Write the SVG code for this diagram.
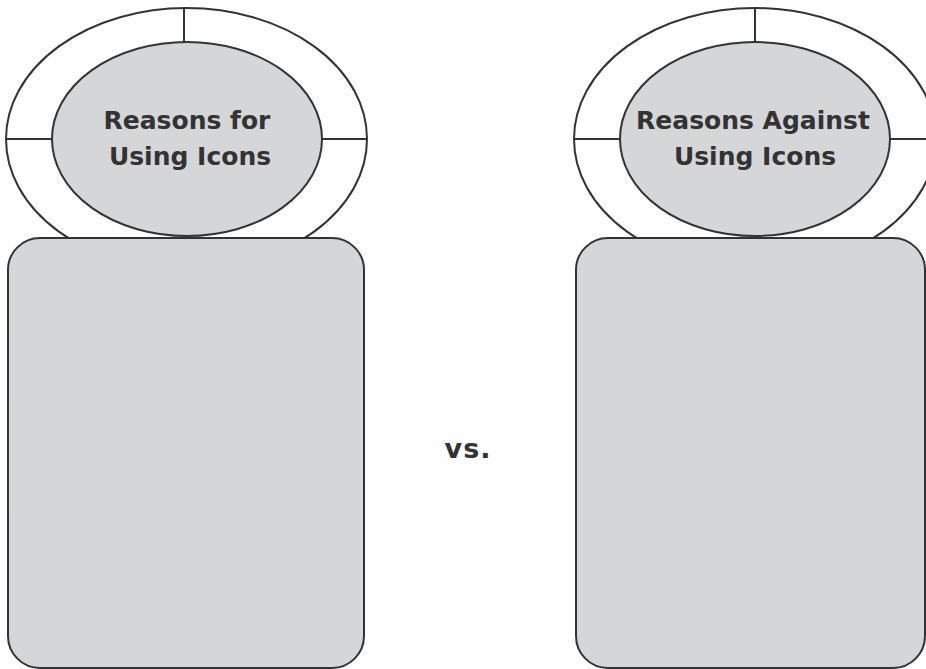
<svg xmlns="http://www.w3.org/2000/svg" width="926" height="669" viewBox="0 0 926 669">
<style>
.ol{fill:#fff;stroke:#333;stroke-width:2}
.gr{fill:#d5d6d8;stroke:#333;stroke-width:2}
.ln{stroke:#333;stroke-width:2;fill:none}
.t{font-family:"DejaVu Sans","Liberation Sans",sans-serif;font-weight:700;font-size:25px;fill:#333;text-anchor:middle}
.vs{font-size:27px;letter-spacing:1px}
</style>
<rect width="926" height="669" fill="#fff"/>
<g id="left">
<ellipse class="ol" cx="186.5" cy="139" rx="180.5" ry="131"/>
<line class="ln" x1="184" y1="8" x2="184" y2="42"/>
<line class="ln" x1="6" y1="139" x2="52" y2="139"/>
<line class="ln" x1="322" y1="139" x2="367" y2="139"/>
<ellipse class="gr" cx="187" cy="139" rx="135" ry="97"/>
<text class="t" x="187" y="129">Reasons for</text>
<text class="t" x="190" y="165">Using Icons</text>
<rect class="gr" x="8" y="238" width="356" height="430" rx="32"/>
</g>
<g id="right">
<ellipse class="ol" cx="755" cy="139" rx="181" ry="131"/>
<line class="ln" x1="755" y1="8" x2="755" y2="42"/>
<line class="ln" x1="574" y1="139" x2="620" y2="139"/>
<line class="ln" x1="890" y1="139" x2="926" y2="139"/>
<ellipse class="gr" cx="755" cy="139" rx="135" ry="97"/>
<text class="t" x="753" y="129">Reasons Against</text>
<text class="t" x="755" y="165">Using Icons</text>
<rect class="gr" x="576" y="238" width="349" height="430" rx="32"/>
</g>
<g id="vs">
<text class="t vs" x="468" y="458">vs.</text>
</g>
<g id="connectors"/>
</svg>
